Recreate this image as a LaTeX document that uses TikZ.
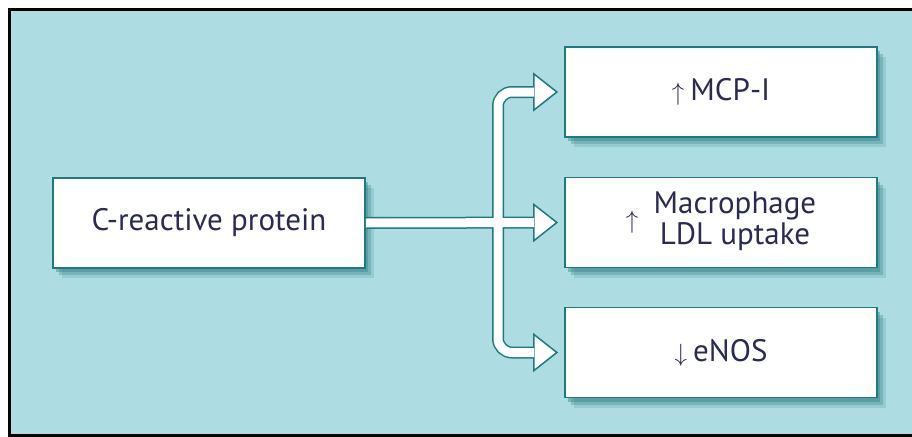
\documentclass[tikz,border=0pt]{standalone}
\usepackage{fontspec}
\setmainfont{PT Sans}
\usetikzlibrary{arrows.meta,shadows}

\definecolor{panelbg}{HTML}{ADDDE2}
\definecolor{boxline}{HTML}{1E7A80}
\definecolor{boxshade}{HTML}{2F7F86}
\definecolor{labeltext}{HTML}{2B2A55}

\tikzset{
  effect/.style={draw=boxline, line width=1.8pt, fill=white, text=labeltext,
    minimum width=312pt, minimum height=90pt, inner sep=0pt,
    font=\fontsize{31}{30}\selectfont,
    drop shadow={shadow xshift=3pt, shadow yshift=-4pt, fill=boxshade, opacity=0.4},
    drop shadow={shadow xshift=6pt, shadow yshift=-7pt, fill=boxshade, opacity=0.3},
    drop shadow={shadow xshift=9pt, shadow yshift=-10pt, fill=boxshade, opacity=0.18}},
  pipe/.style={line width=12pt, draw=boxline, rounded corners=14pt},
  pipecore/.style={line width=9pt, draw=white, rounded corners=14pt},
  head/.style={-{Triangle[width=39pt,length=25pt,fill=white,line width'=1.5pt]}}
}

\begin{document}
\begin{tikzpicture}[x=1pt,y=-1pt]

        % Canvas (pixel grid of the reference, y downwards)
        \useasboundingbox (0,0) rectangle (912,436);
        \clip (0,0) rectangle (912,436);
        \fill[white] (0,0) rectangle (912,436);

        % Panel with black frame (cut off at right and bottom)
        \draw[line width=3pt, fill=panelbg] (9.5,9.5) rectangle (925,435);

        % Source box
        \node[effect] (crp) at (209,223) {C-reactive protein};

        % Effect boxes
        \node[effect] (mcp) at (721,92) {$\uparrow$\hspace{0.2em}MCP-I};
        \node[effect] (macro) at (721,222.5)
            {$\uparrow$\enspace\begin{tabular}{@{}c@{}}Macrophage\\LDL uptake\end{tabular}};
        \node[effect] (enos) at (721,352.5) {$\downarrow$\hspace{0.2em}eNOS};

        % Branch point on the main shaft
        \coordinate (fork) at (498,223);

        % Outlined arrows: outlines first ...
        \draw[pipe, head, shorten >=6pt] (crp.east) -- (macro.west);
        \draw[pipe, head, shorten >=6pt] (fork) |- (mcp.west);
        \draw[pipe, head, shorten >=6pt] (fork) |- (enos.west);

        % ... then the white cores on top
        \draw[pipecore, shorten >=30pt] (crp.east) -- (macro.west);
        \draw[pipecore, shorten >=30pt] (fork) |- (mcp.west);
        \draw[pipecore, shorten >=30pt] (fork) |- (enos.west);

\end{tikzpicture}
\end{document}
